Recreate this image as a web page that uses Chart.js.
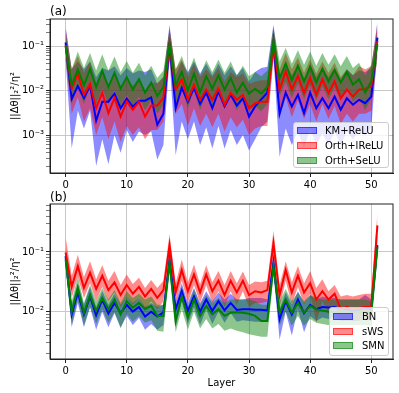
<!DOCTYPE html>
<html>
<head>
<meta charset="utf-8">
<script src="https://cdn.jsdelivr.net/npm/chart.js@4"></script>
<style>
  body { margin: 0; background: #fff; }
  #wrap { position: relative; width: 399px; height: 393px; font-family: "DejaVu Sans", sans-serif; color: #000; }
  canvas { position: absolute; left: 0; }
  .tag { position: absolute; font-size: 12px; line-height: 12px; }
  .legend { position: absolute; background: rgba(255,255,255,0.8); border: 1px solid #ccc; border-radius: 3px; box-sizing: border-box; }
  .row { position: absolute; left: 0; height: 12px; font-size: 10px; line-height: 12px; white-space: nowrap; }
  .row i { position: absolute; top: 2px; width: 20px; height: 7px; box-sizing: border-box; }
  .row span { position: absolute; top: 0; }
</style>
</head>
<body>
<div id="wrap">
  <canvas id="chartA" width="399" height="196" style="top:0"></canvas>
  <canvas id="chartB" width="399" height="197" style="top:196px"></canvas>
  <div class="tag" style="left:50px;top:5px">(a)</div>
  <div class="tag" style="left:50px;top:191px">(b)</div>
  <div class="legend" id="legA" style="left:293px;top:122px;width:96px;height:46px"></div>
  <div class="legend" id="legB" style="left:329px;top:307px;width:60px;height:49px"></div>
</div>
<script>
const layers = [0, 1, 2, 3, 4, 5, 6, 7, 8, 9, 10, 11, 12, 13, 14, 15, 16, 17, 18, 19, 20, 21, 22, 23, 24, 25,
  26, 27, 28, 29, 30, 31, 32, 33, 34, 35, 36, 37, 38, 39, 40, 41, 42, 43, 44, 45, 46, 47, 48, 49, 50, 51];
const xTicks = [0, 10, 20, 30, 40, 50];

// panel (a)
const labelsA = ["KM+ReLU", "Orth+lReLU", "Orth+SeLU"];
const kmMean = [0.12, 0.0065, 0.0126, 0.0068, 0.013, 0.0021, 0.0056, 0.0056, 0.0085, 0.004, 0.0066, 0.0043, 0.0059,
  0.0059, 0.007, 0.0017, 0.003, 0.12, 0.004, 0.0115, 0.0056, 0.0115, 0.005, 0.009, 0.004, 0.0095, 0.0044, 0.008,
  0.0046, 0.0067, 0.0026, 0.0044, 0.0063, 0.009, 0.12, 0.003, 0.009, 0.0044, 0.008, 0.0031, 0.009, 0.004, 0.0067,
  0.004, 0.0073, 0.0037, 0.0067, 0.0048, 0.0062, 0.0052, 0.0073, 0.155];
const kmUpper = [0.28, 0.03, 0.045, 0.03, 0.045, 0.02, 0.032, 0.028, 0.035, 0.022, 0.032, 0.024, 0.028, 0.026, 0.03,
  0.014, 0.02, 0.3, 0.022, 0.045, 0.026, 0.045, 0.024, 0.04, 0.022, 0.04, 0.022, 0.035, 0.022, 0.032, 0.016, 0.026,
  0.032, 0.034, 0.3, 0.02, 0.04, 0.022, 0.036, 0.018, 0.04, 0.02, 0.032, 0.02, 0.032, 0.018, 0.03, 0.022, 0.028,
  0.026, 0.032, 0.36];
const kmLower = [0.05, 5e-4, 0.0035, 0.0014, 0.0035, 2e-4, 8e-4, 2.2e-4, 1e-3, 4e-4, 1.3e-3, 7e-4, 1.2e-3, 1e-3,
  1.2e-3, 2.8e-4, 6e-4, 0.05, 3.5e-4, 2e-3, 8e-4, 2e-3, 6e-4, 1.5e-3, 5e-4, 1.6e-3, 5e-4, 1.3e-3, 6e-4, 1e-3,
  4.5e-4, 8e-4, 1.5e-3, 2e-3, 0.06, 3.2e-4, 1.4e-3, 6e-4, 1.2e-3, 5e-4, 1.4e-3, 6e-4, 1.1e-3, 6e-4, 1.2e-3, 6e-4,
  1.2e-3, 8e-4, 1.2e-3, 1e-3, 1.5e-3, 0.08];
const lreluMean = [0.105, 0.011, 0.024, 0.008, 0.014, 0.004, 0.0088, 0.0031, 0.0068, 0.0026, 0.0056, 0.0037, 0.0056,
  0.0026, 0.0046, 0.0046, 0.0068, 0.11, 0.0105, 0.0177, 0.0062, 0.0135, 0.0062, 0.0105, 0.0062, 0.011, 0.0048,
  0.0088, 0.0062, 0.008, 0.004, 0.0052, 0.0056, 0.0056, 0.11, 0.0105, 0.027, 0.0105, 0.021, 0.0088, 0.019, 0.008,
  0.0177, 0.0088, 0.016, 0.0067, 0.0105, 0.0073, 0.0105, 0.011, 0.0125, 0.13];
const lreluUpper = [0.25, 0.03, 0.06, 0.025, 0.045, 0.015, 0.028, 0.012, 0.022, 0.01, 0.018, 0.013, 0.018, 0.01,
  0.015, 0.015, 0.02, 0.25, 0.03, 0.05, 0.02, 0.04, 0.02, 0.03, 0.02, 0.032, 0.016, 0.026, 0.02, 0.024, 0.014, 0.016,
  0.017, 0.017, 0.25, 0.03, 0.07, 0.03, 0.055, 0.025, 0.05, 0.024, 0.045, 0.025, 0.042, 0.02, 0.03, 0.022, 0.035,
  0.03, 0.035, 0.3];
const lreluLower = [0.05, 0.003, 0.007, 0.002, 0.004, 1e-3, 2.5e-3, 8e-4, 2e-3, 7e-4, 1.6e-3, 1e-3, 1.5e-3, 8e-4,
  1.3e-3, 1.3e-3, 2e-3, 0.05, 3e-3, 5e-3, 1.6e-3, 4e-3, 1.6e-3, 3e-3, 1.5e-3, 3e-3, 1.2e-3, 2.5e-3, 1.5e-3, 2.2e-3,
  1e-3, 1.4e-3, 1.6e-3, 1.6e-3, 0.05, 2.5e-3, 7e-3, 2.5e-3, 6e-3, 2.3e-3, 5e-3, 2e-3, 5e-3, 2.3e-3, 4.5e-3, 1.8e-3,
  3e-3, 2e-3, 3e-3, 3e-3, 3.5e-3, 0.06];
const seluMean = [0.1, 0.013, 0.03, 0.013, 0.03, 0.012, 0.028, 0.012, 0.025, 0.011, 0.02, 0.0105, 0.018, 0.009,
  0.015, 0.0075, 0.012, 0.11, 0.013, 0.026, 0.01, 0.024, 0.009, 0.021, 0.011, 0.022, 0.0105, 0.019, 0.009, 0.015,
  0.0085, 0.011, 0.0085, 0.012, 0.13, 0.019, 0.04, 0.017, 0.036, 0.016, 0.034, 0.015, 0.031, 0.016, 0.029, 0.015,
  0.026, 0.0135, 0.018, 0.009, 0.016, 0.11];
const seluUpper = [0.2, 0.03, 0.075, 0.032, 0.07, 0.028, 0.065, 0.028, 0.058, 0.026, 0.046, 0.025, 0.042, 0.022,
  0.036, 0.019, 0.028, 0.24, 0.03, 0.06, 0.024, 0.055, 0.022, 0.048, 0.026, 0.05, 0.025, 0.045, 0.022, 0.036, 0.021,
  0.026, 0.021, 0.028, 0.27, 0.045, 0.09, 0.04, 0.08, 0.038, 0.075, 0.036, 0.07, 0.038, 0.065, 0.035, 0.06, 0.032,
  0.042, 0.022, 0.038, 0.22];
const seluLower = [0.05, 0.005, 0.012, 0.005, 0.012, 0.0048, 0.011, 0.0048, 0.01, 0.0045, 0.008, 0.0042, 0.0072,
  0.0036, 0.006, 0.003, 0.0048, 0.05, 0.0052, 0.011, 0.004, 0.01, 0.0036, 0.0085, 0.0045, 0.009, 0.0042, 0.0078,
  0.0036, 0.006, 0.0034, 0.0045, 0.0034, 0.005, 0.06, 0.0075, 0.016, 0.0068, 0.0145, 0.0064, 0.0135, 0.006, 0.0125,
  0.0064, 0.0115, 0.006, 0.0105, 0.0055, 0.0072, 0.0036, 0.0065, 0.05];

// panel (b)
const labelsB = ["BN", "sWS", "SMN"];
const bnMean = [0.085, 0.009, 0.021, 0.009, 0.018, 0.0087, 0.016, 0.0093, 0.014, 0.0095, 0.013, 0.01, 0.012, 0.0083,
  0.01, 0.0083, 0.0097, 0.072, 0.011, 0.022, 0.0103, 0.018, 0.01, 0.016, 0.0103, 0.015, 0.0105, 0.014, 0.0107, 0.011,
  0.011, 0.0108, 0.0108, 0.0105, 0.066, 0.0075, 0.015, 0.009, 0.016, 0.0094, 0.013, 0.011, 0.012, 0.0117, 0.012,
  0.011, 0.011, 0.0105, 0.011, 0.0115, 0.011, 0.13];
const bnUpper = [0.12, 0.013, 0.03, 0.013, 0.026, 0.012, 0.022, 0.013, 0.02, 0.013, 0.018, 0.014, 0.017, 0.012,
  0.014, 0.012, 0.013, 0.1, 0.015, 0.03, 0.014, 0.025, 0.014, 0.022, 0.015, 0.021, 0.016, 0.02, 0.016, 0.016, 0.017,
  0.017, 0.017, 0.016, 0.095, 0.011, 0.021, 0.013, 0.022, 0.014, 0.019, 0.016, 0.018, 0.017, 0.017, 0.016, 0.016,
  0.016, 0.016, 0.019, 0.016, 0.2];
const bnLower = [0.06, 0.0055, 0.014, 0.0055, 0.012, 0.005, 0.01, 0.0055, 0.0095, 0.0055, 0.0085, 0.006, 0.0078,
  0.005, 0.0062, 0.005, 0.006, 0.05, 0.0055, 0.015, 0.0062, 0.012, 0.006, 0.011, 0.0062, 0.01, 0.0065, 0.0095,
  0.0068, 0.0072, 0.007, 0.0068, 0.0068, 0.0068, 0.045, 0.0034, 0.01, 0.004, 0.011, 0.0045, 0.0085, 0.007, 0.008,
  0.0075, 0.008, 0.007, 0.007, 0.007, 0.007, 0.0075, 0.007, 0.09];
const swsMean = [0.098, 0.026, 0.058, 0.025, 0.045, 0.024, 0.04, 0.023, 0.031, 0.019, 0.028, 0.02, 0.026, 0.018,
  0.024, 0.017, 0.023, 0.13, 0.021, 0.05, 0.022, 0.042, 0.021, 0.042, 0.022, 0.033, 0.019, 0.033, 0.021, 0.033,
  0.019, 0.022, 0.021, 0.023, 0.14, 0.019, 0.05, 0.021, 0.04, 0.021, 0.03, 0.016, 0.022, 0.016, 0.02, 0.011, 0.012,
  0.011, 0.0115, 0.012, 0.012, 0.28];
const swsUpper = [0.18, 0.04, 0.09, 0.038, 0.07, 0.035, 0.06, 0.033, 0.048, 0.028, 0.042, 0.029, 0.037, 0.025,
  0.034, 0.025, 0.033, 0.2, 0.03, 0.075, 0.031, 0.062, 0.029, 0.06, 0.031, 0.048, 0.028, 0.048, 0.03, 0.047, 0.028,
  0.032, 0.031, 0.033, 0.23, 0.028, 0.07, 0.031, 0.058, 0.03, 0.048, 0.025, 0.035, 0.022, 0.028, 0.018, 0.019, 0.018,
  0.019, 0.02, 0.02, 0.45];
const swsLower = [0.06, 0.017, 0.038, 0.017, 0.03, 0.015, 0.026, 0.015, 0.021, 0.012, 0.018, 0.013, 0.017, 0.011,
  0.015, 0.011, 0.015, 0.08, 0.014, 0.033, 0.014, 0.028, 0.014, 0.028, 0.014, 0.022, 0.012, 0.022, 0.013, 0.022,
  0.012, 0.014, 0.014, 0.015, 0.09, 0.012, 0.033, 0.013, 0.026, 0.013, 0.02, 0.0065, 0.015, 0.009, 0.012, 0.007,
  0.0075, 0.007, 0.0075, 0.0075, 0.0075, 0.17];
const smnMean = [0.075, 0.01, 0.025, 0.0095, 0.019, 0.0103, 0.017, 0.011, 0.016, 0.009, 0.015, 0.0117, 0.014, 0.011,
  0.0125, 0.0085, 0.0085, 0.066, 0.007, 0.018, 0.008, 0.016, 0.0085, 0.0125, 0.009, 0.011, 0.0085, 0.0096, 0.0098,
  0.0096, 0.0092, 0.0085, 0.007, 0.007, 0.058, 0.0096, 0.016, 0.0096, 0.014, 0.0096, 0.0125, 0.011, 0.0105, 0.01,
  0.01, 0.01, 0.01, 0.01, 0.01, 0.01, 0.0095, 0.12];
const smnUpper = [0.11, 0.015, 0.038, 0.014, 0.028, 0.015, 0.025, 0.016, 0.023, 0.014, 0.022, 0.017, 0.02, 0.016,
  0.018, 0.013, 0.013, 0.095, 0.011, 0.027, 0.012, 0.024, 0.013, 0.019, 0.014, 0.017, 0.014, 0.016, 0.016, 0.016,
  0.016, 0.015, 0.013, 0.013, 0.085, 0.015, 0.024, 0.015, 0.021, 0.015, 0.019, 0.017, 0.016, 0.016, 0.016, 0.016,
  0.016, 0.016, 0.016, 0.016, 0.015, 0.17];
const smnLower = [0.05, 0.006, 0.016, 0.0058, 0.012, 0.0062, 0.011, 0.0065, 0.0098, 0.0052, 0.0092, 0.0068, 0.0085,
  0.0065, 0.0072, 0.0048, 0.0046, 0.045, 0.0045, 0.011, 0.005, 0.01, 0.0052, 0.0075, 0.0052, 0.0062, 0.0048, 0.0052,
  0.0048, 0.0045, 0.0042, 0.004, 0.0038, 0.0038, 0.04, 0.0058, 0.01, 0.0058, 0.0085, 0.0058, 0.0075, 0.0065, 0.0062,
  0.006, 0.006, 0.006, 0.006, 0.006, 0.006, 0.006, 0.0058, 0.08];

const colors = ["0,0,255", "255,0,0", "0,128,0"];
const FONT = "DejaVu Sans";

function isMajor(v) {
  const l = Math.log10(v);
  return Math.abs(l - Math.round(l)) < 1e-9;
}

function logTicks(min, max) {
  const out = [];
  for (let e = Math.floor(Math.log10(min)); e <= Math.ceil(Math.log10(max)); e++) {
    for (let m = 1; m < 10; m++) {
      const v = m * Math.pow(10, e);
      if (v >= min && v <= max) out.push({ value: v });
    }
  }
  return out;
}

function powLabel(v) {
  const sup = { "-": "\u207B", "0": "\u2070", "1": "\u00B9", "2": "\u00B2", "3": "\u00B3" };
  const e = String(Math.round(Math.log10(v)));
  return "10" + e.split("").map((c) => sup[c]).join("");
}

const pts = (arr) => layers.map((l, i) => ({ x: l, y: arr[i] }));

const frame = {
  id: "frame",
  afterDraw(chart) {
    const { ctx, chartArea: a } = chart;
    ctx.save();
    ctx.strokeStyle = "#222";
    ctx.lineWidth = 1;
    ctx.strokeRect(a.left, a.top, a.right - a.left, a.bottom - a.top);
    ctx.restore();
  },
};

function makeChart(id, series, opt) {
  // series: [blue, red, green], each {mean, lower, upper}
  const datasets = [];
  [2, 1, 0].forEach((k) => {
    datasets.push({
      data: pts(series[k].mean),
      borderColor: "rgb(" + colors[k] + ")",
      borderWidth: 2,
      pointRadius: 0,
      fill: false,
    });
  });
  [2, 1, 0].forEach((k) => {
    datasets.push({
      data: pts(series[k].lower),
      borderColor: "transparent",
      borderWidth: 0,
      pointRadius: 0,
      fill: false,
    });
    datasets.push({
      data: pts(series[k].upper),
      borderColor: "transparent",
      borderWidth: 0,
      pointRadius: 0,
      fill: "-1",
      backgroundColor: "rgba(" + colors[k] + ",0.45)",
    });
  });

  return new Chart(document.getElementById(id), {
    type: "line",
    data: { datasets: datasets },
    plugins: [frame],
    options: {
      responsive: false,
      animation: false,
      devicePixelRatio: 1,
      elements: { line: { tension: 0 } },
      layout: { padding: { top: opt.padTop, right: 6, left: 0, bottom: 0 } },
      plugins: { legend: { display: false }, tooltip: { enabled: false } },
      scales: {
        x: {
          type: "linear",
          min: -2.55,
          max: 53.55,
          afterBuildTicks: (s) => { s.ticks = xTicks.map((v) => ({ value: v })); },
          afterFit: (s) => { s.height = opt.xHeight; },
          ticks: { autoSkip: false, maxRotation: 0, padding: 2, color: "#000", font: { family: FONT, size: 10 } },
          grid: { color: "#c8c8c8", lineWidth: 1, tickColor: "#222", tickLength: 4 },
          border: { color: "#222" },
          title: {
            display: !!opt.xTitle,
            text: opt.xTitle || "",
            color: "#000",
            font: { family: FONT, size: 10 },
            padding: { top: 0, bottom: 4 },
          },
        },
        y: {
          type: "logarithmic",
          min: opt.yMin,
          max: opt.yMax,
          afterBuildTicks: (s) => { s.ticks = logTicks(opt.yMin, opt.yMax); },
          afterFit: (s) => { s.width = 50; },
          ticks: {
            autoSkip: false,
            padding: 2,
            color: "#000",
            font: { family: FONT, size: 10 },
            callback: (v) => (isMajor(v) ? powLabel(v) : ""),
          },
          grid: {
            color: (c) => (c.tick && isMajor(c.tick.value) ? "#c8c8c8" : "rgba(0,0,0,0)"),
            tickColor: "#222",
            tickWidth: (c) => (c.tick && isMajor(c.tick.value) ? 1 : 0.6),
            tickLength: 4,
          },
          border: { color: "#222" },
          title: {
            display: true,
            text: "||\u0394\u03B8||\u2082\u00B2/\u03B7\u00B2",
            color: "#000",
            font: { family: FONT, size: 10 },
            padding: { top: 9, bottom: 0 },
          },
        },
      },
    },
  });
}

makeChart("chartA", [
  { mean: kmMean, lower: kmLower, upper: kmUpper },
  { mean: lreluMean, lower: lreluLower, upper: lreluUpper },
  { mean: seluMean, lower: seluLower, upper: seluUpper },
], { yMin: 1.4e-4, yMax: 0.405, padTop: 19, xHeight: 23 });

makeChart("chartB", [
  { mean: bnMean, lower: bnLower, upper: bnUpper },
  { mean: swsMean, lower: swsLower, upper: swsUpper },
  { mean: smnMean, lower: smnLower, upper: smnUpper },
], { yMin: 1.61e-3, yMax: 0.637, padTop: 8, xHeight: 34, xTitle: "Layer" });

function legend(id, labels, rows, textLeft) {
  const box = document.getElementById(id);
  labels.forEach((t, k) => {
    const r = document.createElement("div");
    r.className = "row";
    r.style.top = rows[k] + "px";
    r.innerHTML = '<i style="left:3px;background:rgba(' + colors[k] + ',0.45);border:1px solid rgba(' +
      colors[k] + ',0.55)"></i><span style="left:' + textLeft + 'px">' + t + "</span>";
    box.appendChild(r);
  });
}
legend("legA", labelsA, [2, 17, 32], 31);
legend("legB", labelsB, [3, 18, 32], 32);
</script>
</body>
</html>
